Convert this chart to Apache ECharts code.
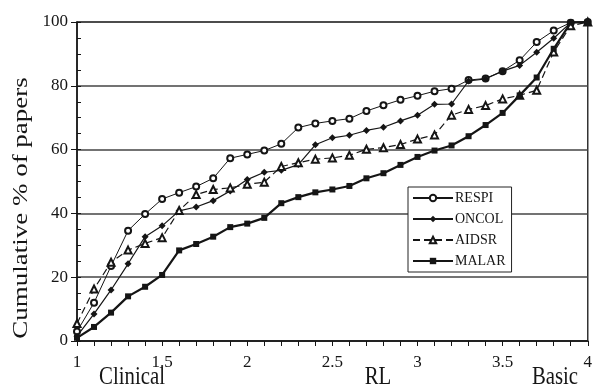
<!DOCTYPE html>
<html>
<head>
<meta charset="utf-8">
<script src="https://cdn.jsdelivr.net/npm/echarts@6/dist/echarts.min.js"></script>
<style>
  html, body { margin: 0; padding: 0; background: #fff; }
  #cum-chart { width: 595px; height: 389px; }
</style>
</head>
<body>
<div id="cum-chart"></div>
<script>
// RL level (x) where each point sits
const rlLevels = [1.0, 1.1, 1.2, 1.3, 1.4, 1.5, 1.6, 1.7, 1.8, 1.9,
  2.0, 2.1, 2.2, 2.3, 2.4, 2.5, 2.6, 2.7, 2.8, 2.9,
  3.0, 3.1, 3.2, 3.3, 3.4, 3.5, 3.6, 3.7, 3.8, 3.9, 4.0]

// cumulative % of papers
const respi = [3, 12, 23.5, 34.6, 39.8, 44.5, 46.5, 48.4, 51, 57.3,
  58.5, 59.7, 61.8, 66.9, 68.2, 69, 69.7, 72.1, 73.9, 75.6,
  76.9, 78.3, 79.1, 81.8, 82.3, 84.6, 88, 93.7, 97.3, 99.8, 100]
const oncol = [1.5, 8.5, 16, 24.2, 32.7, 36.1, 40.8, 42, 44, 47,
  50.6, 52.9, 53.5, 55.3, 61.5, 63.7, 64.5, 66, 67, 69,
  70.8, 74.2, 74.3, 81.5, 82.2, 84.6, 86.4, 90.5, 94.9, 99.8, 100]
const aidsr = [5.5, 16.3, 24.7, 28.5, 30.6, 32.4, 40.9, 45.9, 47.5, 48,
  49.1, 49.8, 54.7, 55.9, 57, 57.4, 58.2, 60.1, 60.6, 61.6,
  63.3, 64.6, 70.8, 72.6, 73.8, 75.9, 77, 78.6, 90.6, 98.8, 100]
const malar = [1, 4.4, 8.9, 14, 17, 20.7, 28.4, 30.4, 32.7, 35.7,
  36.8, 38.6, 43.2, 45.1, 46.6, 47.5, 48.6, 51, 52.6, 55.2,
  57.7, 59.7, 61.3, 64.2, 67.7, 71.5, 77, 82.6, 91.6, 99.8, 100]

const yTicks = [0, 20, 40, 60, 80, 100]

const serifFont = '"Liberation Serif", "Times New Roman", serif'
const ink = '#151515'

function pairs(vals) {
  let out = []
  for (let i = 0; i < rlLevels.length; i++) {
    out.push([rlLevels[i], vals[i]])
  }
  return out
}

const chart = echarts.init(document.getElementById('cum-chart'), null, { renderer: 'canvas' })

const option = {
  animation: false,
  backgroundColor: '#fff',
  grid: {
    left: 77,
    right: 5,
    top: 22,
    bottom: 48,
    show: true,
    borderColor: '#333',
    borderWidth: 1.5
  },
  legend: {
    orient: 'vertical',
    left: 408,
    top: 187,
    padding: [4, 6, 4, 4],
    itemWidth: 40,
    itemHeight: 8,
    itemGap: 7,
    backgroundColor: '#fff',
    borderColor: '#222',
    borderWidth: 1,
    textStyle: {
      fontFamily: serifFont,
      fontSize: 14,
      color: ink,
      padding: [0, 0, 0, -3]
    },
    data: ['RESPI', 'ONCOL', 'AIDSR', 'MALAR']
  },
  xAxis: {
    type: 'value',
    min: 1,
    max: 4,
    interval: 0.5,
    axisLine: { show: true, lineStyle: { color: ink, width: 1.5 } },
    axisTick: { show: true, length: 5, lineStyle: { color: ink } },
    minorTick: { show: true, splitNumber: 5, length: 5, lineStyle: { color: ink } },
    splitLine: { show: false },
    axisLabel: {
      margin: 13,
      fontFamily: serifFont,
      fontSize: 17,
      color: ink
    }
  },
  yAxis: [
    {
      type: 'value',
      min: 0,
      max: 100,
      interval: 20,
      axisLine: { show: true, lineStyle: { color: ink, width: 1.5 } },
      axisTick: { show: true, length: 6, lineStyle: { color: ink } },
      splitLine: { show: true, lineStyle: { color: '#444', width: 1.5 } },
      axisLabel: {
        margin: 9,
        fontFamily: serifFont,
        fontSize: 17,
        color: ink,
        formatter: v => (yTicks.indexOf(v) >= 0 ? String(v) : '')
      }
    },
    {
      // only for the small inward ticks every 5 %
      type: 'value',
      position: 'left',
      min: 0,
      max: 100,
      interval: 5,
      axisLine: { show: false },
      axisTick: { show: true, inside: true, length: 4, lineStyle: { color: ink } },
      axisLabel: { show: false },
      splitLine: { show: false }
    }
  ],
  graphic: [
    {
      type: 'text',
      x: 22,
      y: 208,
      rotation: Math.PI / 2,
      scaleY: 0.75,
      style: {
        text: 'Cumulative % of papers',
        font: '27px ' + serifFont,
        fill: ink,
        textAlign: 'center',
        textVerticalAlign: 'middle',
        align: 'center',
        verticalAlign: 'middle'
      }
    },
    {
      type: 'text',
      x: 132,
      y: 377,
      scaleX: 0.8,
      style: {
        text: 'Clinical',
        font: '26px ' + serifFont,
        fill: ink,
        textAlign: 'center',
        textVerticalAlign: 'middle',
        align: 'center',
        verticalAlign: 'middle'
      }
    },
    {
      type: 'text',
      x: 378,
      y: 377,
      scaleX: 0.8,
      style: {
        text: 'RL',
        font: '26px ' + serifFont,
        fill: ink,
        textAlign: 'center',
        textVerticalAlign: 'middle',
        align: 'center',
        verticalAlign: 'middle'
      }
    },
    {
      type: 'text',
      x: 555,
      y: 377,
      scaleX: 0.8,
      style: {
        text: 'Basic',
        font: '26px ' + serifFont,
        fill: ink,
        textAlign: 'center',
        textVerticalAlign: 'middle',
        align: 'center',
        verticalAlign: 'middle'
      }
    }
  ],
  series: [
    {
      name: 'RESPI',
      type: 'line',
      clip: false,
      symbol: 'emptyCircle',
      symbolSize: 6,
      itemStyle: { color: ink, borderWidth: 1 },
      lineStyle: { color: ink, width: 1 },
      data: pairs(respi)
    },
    {
      name: 'ONCOL',
      type: 'line',
      clip: false,
      symbol: 'diamond',
      symbolSize: 7,
      itemStyle: { color: ink },
      lineStyle: { color: ink, width: 1.2 },
      data: pairs(oncol)
    },
    {
      name: 'AIDSR',
      type: 'line',
      clip: false,
      symbol: 'emptyTriangle',
      symbolSize: 7,
      itemStyle: { color: ink, borderWidth: 1 },
      lineStyle: { color: ink, width: 1.2, type: [7, 4] },
      data: pairs(aidsr)
    },
    {
      name: 'MALAR',
      type: 'line',
      clip: false,
      symbol: 'rect',
      symbolSize: 6,
      itemStyle: { color: ink },
      lineStyle: { color: ink, width: 2.2 },
      data: pairs(malar)
    }
  ]
}

chart.setOption(option)
window.addEventListener('resize', () => chart.resize())
</script>
</body>
</html>
